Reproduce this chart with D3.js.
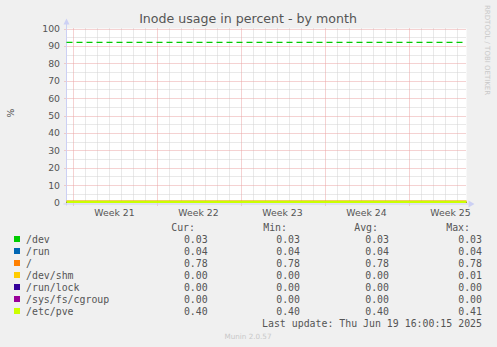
<!DOCTYPE html>
<html><head><meta charset="utf-8">
<script src="https://cdn.jsdelivr.net/npm/d3@7"></script>
<style>body{margin:0;background:#f0f0f0;}svg{display:block;}</style>
</head><body>
<svg id="c" width="497" height="347"></svg>
<script>
// ---- data ----
const seriesNames = ["/dev", "/run", "/", "/dev/shm", "/run/lock", "/sys/fs/cgroup", "/etc/pve"];
const curValues = [0.03, 0.04, 0.78, 0.00, 0.00, 0.00, 0.40];
const minValues = [0.03, 0.04, 0.78, 0.00, 0.00, 0.00, 0.40];
const avgValues = [0.03, 0.04, 0.78, 0.00, 0.00, 0.00, 0.40];
const maxValues = [0.03, 0.04, 0.78, 0.01, 0.00, 0.00, 0.41];
const warningValue = 92;
const yTicks = [0, 10, 20, 30, 40, 50, 60, 70, 80, 90, 100];
const weekLabels = ["Week 21", "Week 22", "Week 23", "Week 24", "Week 25"];
const weekStarts = ["2025-05-19", "2025-05-26", "2025-06-02", "2025-06-09", "2025-06-16"];
const timeStart = "2025-05-18T12:00:00Z";
const timeEnd = "2025-06-20T20:00:00Z";
const titleText = "Inode usage in percent - by month";
const lastUpdate = "Last update: Thu Jun 19 16:00:15 2025";

// ---- styles ----
const colors = ["#00cc00", "#0066b3", "#ff8000", "#ffcc00", "#330099", "#990099", "#ccff00"];
const svg = d3.select("#c");
const L = 66.5, R = 466.5, T = 28.5, B = 202.5;
const x = d3.scaleUtc().domain([new Date(timeStart), new Date(timeEnd)]).range([L, R]);
const y = d3.scaleLinear().domain([0, 100]).range([B, T]);
const textCol = "#555";

svg.append("rect").attr("x", L).attr("y", T).attr("width", R - L).attr("height", B - T).attr("fill", "#fff");

const weekDates = weekStarts.map(s => new Date(s + "T00:00:00Z"));
const weekSet = new Set(weekDates.map(d => +d));
// minor grid
const days = d3.utcDay.range(new Date(timeStart), new Date(timeEnd)).filter(d => !weekSet.has(+d));
const g = svg.append("g");
g.selectAll(".vmin").data(days).join("line")
  .attr("x1", d => Math.round(x(d)) + 0.5).attr("x2", d => Math.round(x(d)) + 0.5)
  .attr("y1", T).attr("y2", B).attr("stroke", "#d2d2d2").attr("stroke-dasharray", "1,1");
const minorY = d3.range(5, 100, 10);
g.selectAll(".hmin").data(minorY).join("line")
  .attr("x1", L).attr("x2", R).attr("y1", d => Math.round(y(d)) + 0.5).attr("y2", d => Math.round(y(d)) + 0.5)
  .attr("stroke", "#d2d2d2").attr("stroke-dasharray", "1,1");
// major grid
g.selectAll(".vmaj").data(weekDates).join("line")
  .attr("x1", d => Math.round(x(d)) + 0.5).attr("x2", d => Math.round(x(d)) + 0.5)
  .attr("y1", T).attr("y2", B + 3).attr("stroke", "#eba4a4").attr("stroke-dasharray", "1,1");
g.selectAll(".hmaj").data(yTicks.filter(v => v > 0)).join("line")
  .attr("x1", L - 2).attr("x2", R).attr("y1", d => Math.round(y(d)) + 0.5).attr("y2", d => Math.round(y(d)) + 0.5)
  .attr("stroke", "#eba4a4").attr("stroke-dasharray", "1,1");

// axes lines + arrows
const axisCol = "#ccd0f4";
svg.append("line").attr("x1", L).attr("x2", L).attr("y1", B + 3).attr("y2", T - 5).attr("stroke", axisCol);
svg.append("line").attr("x1", L - 3).attr("x2", R + 2).attr("y1", B + 1.5).attr("y2", B + 1.5).attr("stroke", axisCol);
svg.append("path").attr("d", `M${L - 3},${T - 4} L${L + 3},${T - 4} L${L},${T - 10} Z`).attr("fill", axisCol);
svg.append("path").attr("d", `M${R + 2},${B - 2} L${R + 2},${B + 5} L${R + 8},${B + 1.5} Z`).attr("fill", axisCol);

// y tick labels
svg.selectAll(".yl").data(yTicks).join("text")
  .attr("x", 60).attr("y", d => y(d) + 3.5).attr("text-anchor", "end")
  .attr("font-family", "DejaVu Sans").attr("font-size", 9.3).attr("fill", textCol).text(d => d);

// x tick labels at mid-week
svg.selectAll(".xl").data(weekLabels).join("text")
  .attr("x", (d, i) => x(d3.utcHour.offset(weekDates[i], 84))).attr("y", 216).attr("text-anchor", "middle")
  .attr("font-family", "DejaVu Sans").attr("font-size", 9.3).attr("fill", textCol).text(d => d);

// series lines
const dom = x.domain();
seriesNames.forEach((n, i) => {
  svg.append("path").datum(dom.map(t => ({t, v: avgValues[i]})))
    .attr("d", d3.line().x(d => x(d.t)).y(d => y(d.v)))
    .attr("stroke", colors[i]).attr("stroke-width", i === seriesNames.length - 1 ? 2.2 : 1.2).attr("fill", "none");
});
// warning line
svg.append("line").attr("x1", L).attr("x2", R).attr("y1", y(warningValue)).attr("y2", y(warningValue))
  .attr("stroke", colors[0]).attr("stroke-width", 1.2).attr("stroke-dasharray", "6,4");

// title
svg.append("text").attr("x", 248).attr("y", 23).attr("text-anchor", "middle")
  .attr("font-family", "DejaVu Sans").attr("font-size", 12.6).attr("fill", textCol).text(titleText);
// y label
svg.append("text").attr("transform", "translate(14,113) rotate(-90)").attr("text-anchor", "middle")
  .attr("font-family", "DejaVu Sans").attr("font-size", 9.3).attr("fill", textCol).text("%");
// right vertical credit
svg.append("text").attr("transform", "translate(485,5) rotate(90)").attr("text-anchor", "start")
  .attr("font-family", "DejaVu Sans").attr("font-size", 7).attr("fill", "#c8c8c8").text("RRDTOOL / TOBI OETIKER");

// legend
const mono = "DejaVu Sans Mono", fs = 9.9;
const cols = [{h: "Cur:", he: 195, ve: 207.7, vals: curValues},
              {h: "Min:", he: 287, ve: 300, vals: minValues},
              {h: "Avg:", he: 378, ve: 389, vals: avgValues},
              {h: "Max:", he: 470, ve: 482, vals: maxValues}];
const rowBase = i => 243 + i * 12;
cols.forEach(c => {
  svg.append("text").attr("x", c.he).attr("y", 230.5).attr("text-anchor", "end")
    .attr("font-family", mono).attr("font-size", fs).attr("fill", textCol).text(c.h);
  svg.selectAll(null).data(c.vals).join("text")
    .attr("x", c.ve).attr("y", (d, i) => rowBase(i)).attr("text-anchor", "end")
    .attr("font-family", mono).attr("font-size", fs).attr("fill", textCol).text(d => d.toFixed(2));
});
svg.selectAll(".sw").data(seriesNames).join("rect")
  .attr("x", 14).attr("y", (d, i) => rowBase(i) - 7).attr("width", 6).attr("height", 6)
  .attr("fill", (d, i) => colors[i]);
svg.selectAll(".nm").data(seriesNames).join("text")
  .attr("x", 26).attr("y", (d, i) => rowBase(i))
  .attr("font-family", mono).attr("font-size", fs).attr("fill", textCol).text(d => d);
svg.append("text").attr("x", 482).attr("y", 327).attr("text-anchor", "end")
  .attr("font-family", mono).attr("font-size", fs).attr("fill", textCol).text(lastUpdate);
svg.append("text").attr("x", 248).attr("y", 339).attr("text-anchor", "middle")
  .attr("font-family", "DejaVu Sans").attr("font-size", 7.2).attr("fill", "#c8c8c8").text("Munin 2.0.57");
</script>
</body></html>
